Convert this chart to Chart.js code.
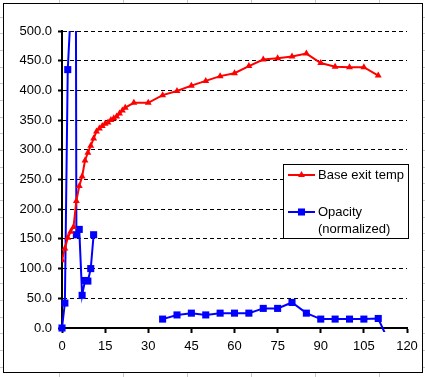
<!DOCTYPE html>
<html>
<head>
<meta charset="utf-8">
<script src="https://cdn.jsdelivr.net/npm/chart.js@4.4.1/dist/chart.umd.min.js"></script>
<style>
  html, body { margin: 0; padding: 0; background: #fff; }
</style>
</head>
<body>
<canvas id="chart" width="425" height="377"></canvas>
<script>
// ================= DATA =================
// Base exit temp (time, value)
const tempTime = [0, 1, 2, 3, 4, 5, 6, 7, 8, 9, 10, 11, 12, 13, 14, 15, 16, 17, 18, 19, 20, 21, 22, 25,
                  30, 35, 40, 45, 50, 55, 60, 65, 70, 75, 80, 85, 90, 95, 100, 105, 110];
const tempVal  = [114, 134, 152, 162, 170, 214, 239, 255, 282, 295, 307, 319, 331, 336, 340, 344, 346, 350, 353, 356, 361, 366, 371, 379,
                  379, 392, 399, 408, 416, 424, 429, 441, 452, 454, 457, 462, 446, 440, 439, 439, 425];

// Opacity (normalized) - null = break in the line
const opacityTime = [0, 1, 2, 3, 4, 5, 6, 7, 8, 9, 10, 11, null,
                     35, 40, 45, 50, 55, 60, 65, 70, 75, 80, 85, 90, 95, 100, 105, 110, 113];
const opacityVal  = [0, 42, 435, 530, 2600, 157, 166, 55, 80, 79, 100, 157, null,
                     15, 22, 25, 22, 25, 25, 25, 33, 33, 43, 25, 15, 15, 15, 15, 16, -16];

const xTicks = [0, 15, 30, 45, 60, 75, 90, 105, 120];
const yTicks = [0, 50, 100, 150, 200, 250, 300, 350, 400, 450, 500];

const legendLabels = [['Base exit temp'], ['Opacity', '(normalized)']];

// ================= HELPERS =================
const FONT = { family: "'Liberation Sans', Arial, sans-serif", size: 13 };
const RED = '#ff0000';
const BLUE = '#0000ff';

function toPoints(xs, ys) {
    return xs.map((x, i) => (x === null ? { x: NaN, y: null } : { x: x, y: ys[i] }));
}

// excel-like frame + sheet grid outside of it
const framePlugin = {
    id: 'frame',
    beforeDraw(chart) {
        const c = chart.ctx;
        c.save();
        c.fillStyle = '#fff';
        c.fillRect(0, 0, chart.width, chart.height);
        c.strokeStyle = '#c8c8c8';
        c.lineWidth = 1;
        c.beginPath();
        for (let x = 59.5; x < chart.width; x += 64) { c.moveTo(x, 0); c.lineTo(x, chart.height); }
        for (let y = 16.5; y < chart.height; y += 16.67) { c.moveTo(0, Math.round(y) + 0.5); c.lineTo(chart.width, Math.round(y) + 0.5); }
        c.stroke();
        c.fillStyle = '#fff';
        c.fillRect(3, 3, 420, 370);
        c.strokeStyle = '#000';
        c.strokeRect(3.5, 3.5, 419, 369);
        c.restore();
    }
};

// legend box like in the original
const legendPlugin = {
    id: 'boxLegend',
    afterDraw(chart) {
        const c = chart.ctx;
        c.save();
        c.fillStyle = '#fff';
        c.fillRect(283, 164, 126, 75);
        c.strokeStyle = '#000';
        c.lineWidth = 1;
        c.strokeRect(283.5, 164.5, 125, 74);

        const rows = [
            { color: RED, style: 'triangle', r: 4, y: 175 },
            { color: BLUE, style: 'rect', r: 5, y: 212 }
        ];
        rows.forEach((row, i) => {
            c.strokeStyle = row.color;
            c.lineWidth = 2;
            c.beginPath();
            c.moveTo(288, row.y);
            c.lineTo(315, row.y);
            c.stroke();
            c.fillStyle = row.color;
            Chart.helpers.drawPoint(c, { pointStyle: row.style, radius: row.r, borderWidth: 0 }, 301.5, row.y);
            c.fillStyle = '#000';
            c.font = FONT.size + 'px ' + FONT.family;
            c.textBaseline = 'middle';
            c.textAlign = 'left';
            legendLabels[i].forEach((txt, k) => c.fillText(txt, 318, row.y + k * 17));
        });
        c.restore();
    }
};

// ================= CHART =================
const ctx = document.getElementById('chart').getContext('2d');

new Chart(ctx, {
    type: 'scatter',
    data: {
        datasets: [
            {
                label: legendLabels[0].join(' '),
                data: toPoints(tempTime, tempVal),
                showLine: true,
                borderColor: RED,
                backgroundColor: RED,
                borderWidth: 2,
                pointStyle: 'triangle',
                pointRadius: 4,
                pointHoverRadius: 4,
                pointBorderWidth: 0
            },
            {
                label: legendLabels[1].join(' '),
                data: toPoints(opacityTime, opacityVal),
                showLine: true,
                spanGaps: false,
                borderColor: BLUE,
                backgroundColor: BLUE,
                borderWidth: 2,
                pointStyle: 'rect',
                pointRadius: 5,
                pointHoverRadius: 5,
                pointBorderWidth: 0,
                clip: { left: 6, top: 0, right: 6, bottom: 4 }
            }
        ]
    },
    options: {
        responsive: false,
        animation: false,
        events: [],
        layout: { padding: { left: 0, top: 31, right: 18, bottom: 0 } },
        plugins: {
            legend: { display: false },
            tooltip: { enabled: false }
        },
        scales: {
            x: {
                type: 'linear',
                min: 0,
                max: 120,
                afterBuildTicks: s => { s.ticks = xTicks.map(v => ({ value: v })); },
                afterFit: s => { s.height = 49; },
                ticks: { color: '#000', font: FONT, padding: 6, maxRotation: 0 },
                grid: { drawOnChartArea: false, tickLength: 5, tickWidth: 2, tickColor: '#000' },
                border: { color: '#000', width: 2 }
            },
            y: {
                min: 0,
                max: 500,
                afterBuildTicks: s => { s.ticks = yTicks.map(v => ({ value: v })); },
                afterFit: s => { s.width = 62; },
                ticks: { color: '#000', font: FONT, padding: 6, callback: v => v.toFixed(1) },
                grid: { color: '#000', lineWidth: 1, tickLength: 4, tickWidth: 2, tickColor: '#000' },
                border: { color: '#000', width: 2, dash: [4, 3] }
            }
        }
    },
    plugins: [framePlugin, legendPlugin]
});
</script>
</body>
</html>
